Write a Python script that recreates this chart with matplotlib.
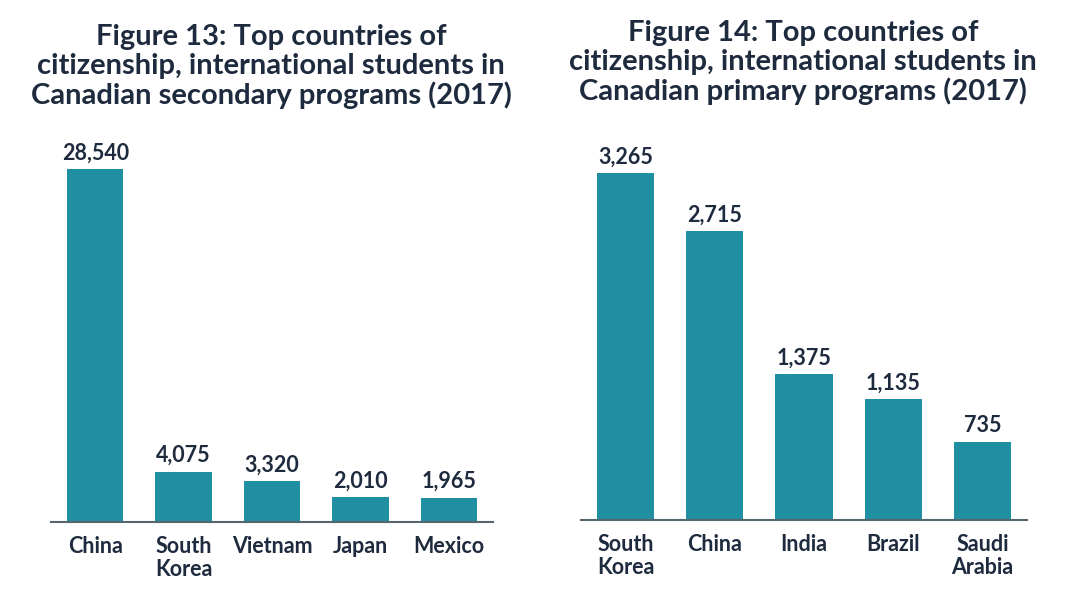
import matplotlib
matplotlib.use('Agg')
import matplotlib.pyplot as plt

# Figure 13 data (secondary programs)
sec_countries = ["China", "South\nKorea", "Vietnam", "Japan", "Mexico"]
sec_values = [28540, 4075, 3320, 2010, 1965]

# Figure 14 data (primary programs)
pri_countries = ["South\nKorea", "China", "India", "Brazil", "Saudi\nArabia"]
pri_values = [3265, 2715, 1375, 1135, 735]

sec_title = "Figure 13: Top countries of\ncitizenship, international students in\nCanadian secondary programs (2017)"
pri_title = "Figure 14: Top countries of\ncitizenship, international students in\nCanadian primary programs (2017)"

BAR = "#218fa2"
TEXT = "#1e2a3d"
AXIS = "#55666e"
W, H = 1080, 604

plt.rcParams['font.family'] = ['Lato', 'DejaVu Sans']

fig = plt.figure(figsize=(W / 100, H / 100), dpi=100)


def panel(x0, x1, y_base, y_top, cats, vals, title, title_x, title_y):
    ax = fig.add_axes([x0 / W, (H - y_base) / H, (x1 - x0) / W, (y_base - y_top) / H])
    xs = range(len(vals))
    ax.bar(xs, vals, width=0.64, color=BAR)
    ax.set_xlim(-0.5, len(vals) - 0.5)
    ax.set_ylim(0, max(vals))
    for s in ["top", "right", "left"]:
        ax.spines[s].set_visible(False)
    ax.spines["bottom"].set_color(AXIS)
    ax.spines["bottom"].set_linewidth(1.5)
    ax.set_yticks([])
    ax.set_xticks(list(xs))
    ax.set_xticklabels(cats, fontsize=15.5, fontweight='bold', color=TEXT,
                       linespacing=1.1, va='top')
    ax.tick_params(axis='x', length=0, pad=10)
    for x, v in zip(xs, vals):
        ax.annotate(f"{v:,}", (x, v), xytext=(0, 4), textcoords='offset points',
                    ha='center', va='bottom', fontsize=15.5, fontweight='bold',
                    color=TEXT, annotation_clip=False)
    fig.text(title_x / W, 1 - title_y / H, title, ha='center', va='top',
             fontsize=21, fontweight='bold', color=TEXT, linespacing=1.13)


panel(51, 493, 522, 169, sec_countries, sec_values, sec_title, 271, 24)
panel(581, 1027, 520, 173, pri_countries, pri_values, pri_title, 803, 20)

fig.savefig("out.png", dpi=100)
